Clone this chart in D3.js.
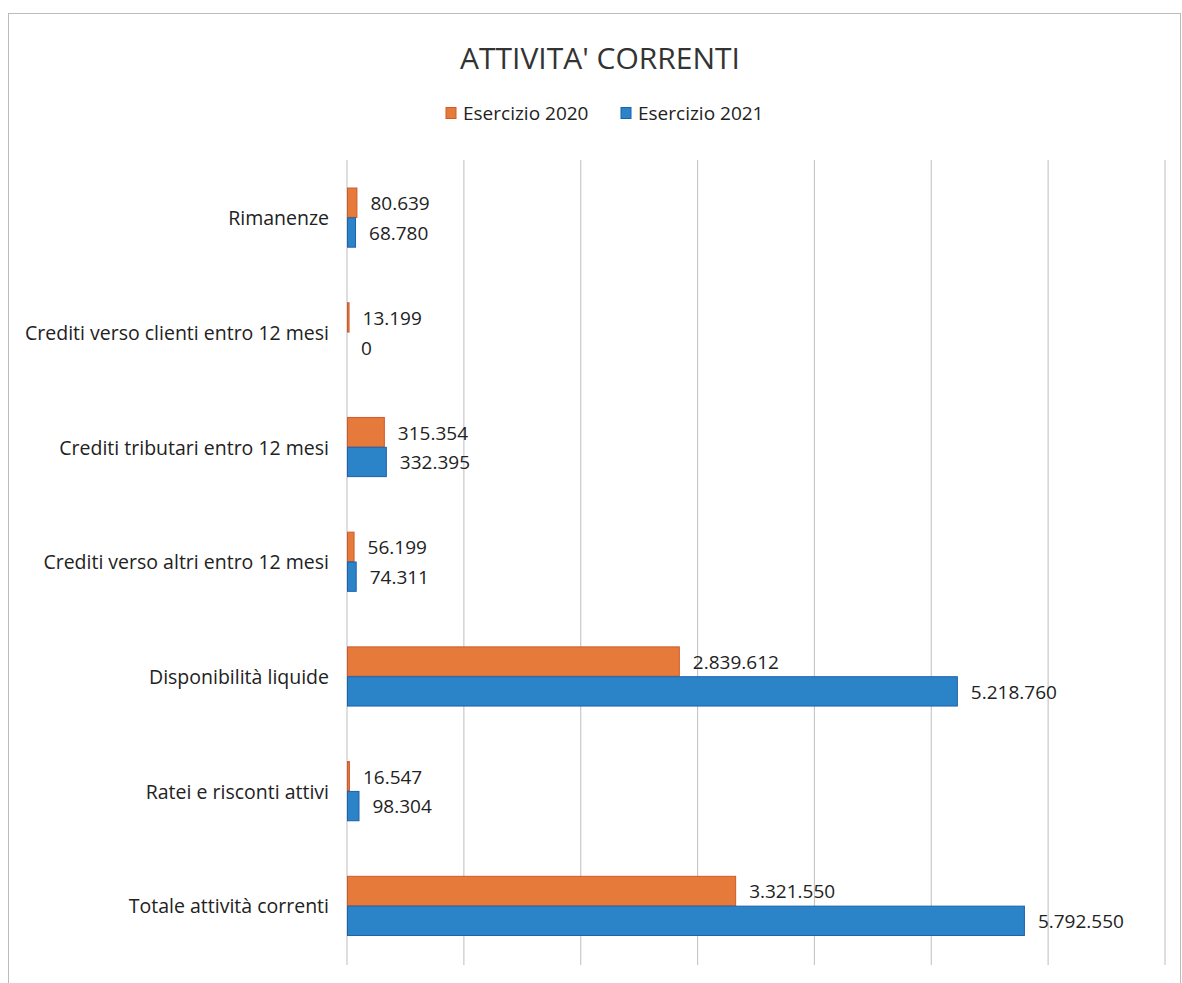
<!DOCTYPE html>
<html><head><meta charset="utf-8">
<script src="https://cdn.jsdelivr.net/npm/d3@7"></script>
<style>body{margin:0;background:#fff}svg{display:block}</style>
</head><body><svg id="c" width="1182" height="983"></svg>
<script>
const categories = ["Rimanenze","Crediti verso clienti entro 12 mesi","Crediti tributari entro 12 mesi","Crediti verso altri entro 12 mesi","Disponibilità liquide","Ratei e risconti attivi","Totale attività correnti"];
const series2020 = [80639,13199,315354,56199,2839612,16547,3321550];
const series2021 = [68780,0,332395,74311,5218760,98304,5792550];
const seriesNames = ["Esercizio 2020","Esercizio 2021"];
const xTicks = [0,1000000,2000000,3000000,4000000,5000000,6000000,7000000];
const colors = ["#E57A3A","#2C84C8"];
const strokes = ["#cf5a2c","#1d5fae"];

const svg = d3.select("#c");
const font = "'Open Sans', 'Noto Sans', sans-serif";
svg.append("rect").attr("x",8.5).attr("y",13.5).attr("width",1172).attr("height",990).attr("fill","none").attr("stroke","#bbb");

const x = d3.scaleLinear().domain([0,7000000]).range([347,1165]);
const y = d3.scaleBand().domain(categories).range([160,963]).paddingInner(0.48).paddingOuter(0.24);
const ys = d3.scaleBand().domain([0,1]).range([0,y.bandwidth()]);

svg.append("g").selectAll("line").data(xTicks).join("line")
  .attr("x1",d=>x(d)).attr("x2",d=>x(d)).attr("y1",160).attr("y2",965)
  .attr("stroke","#c8c8c8").attr("stroke-width",1.2);

const fmt = v => d3.format(",")(v).replace(/,/g,".");
const data = categories.map((c,i)=>({c, vals:[series2020[i],series2021[i]]}));
const g = svg.append("g");
data.forEach(d=>{
  d.vals.forEach((v,k)=>{
    const yy = y(d.c)+ys(k);
    if (v>0) g.append("rect").attr("x",x(0)+0.5).attr("y",yy+0.5).attr("width",Math.max(x(v)-x(0),0.8)).attr("height",ys.bandwidth()-0.5)
      .attr("fill",colors[k]).attr("stroke",strokes[k]).attr("stroke-width",1);
    g.append("text").attr("x",x(v)+14).attr("y",yy+ys.bandwidth()/2+1).attr("dy","0.35em")
      .attr("font-family",font).attr("font-size",19).attr("fill","#222").text(fmt(v));
  });
  g.append("text").attr("x",329).attr("y",y(d.c)+y.bandwidth()/2+1).attr("dy","0.35em").attr("text-anchor","end")
    .attr("font-family",font).attr("font-size",19.5).attr("fill","#222").text(d.c);
});

svg.append("text").attr("x",600).attr("y",69).attr("text-anchor","middle").attr("font-family",font)
  .attr("font-size",30).attr("fill","#333").text("ATTIVITA' CORRENTI");

const leg = svg.append("g");
const lx = [446,621];
seriesNames.forEach((s,k)=>{
  leg.append("rect").attr("x",lx[k]).attr("y",107.5).attr("width",10).attr("height",11).attr("fill",colors[k]).attr("stroke",strokes[k]);
  leg.append("text").attr("x",lx[k]+17).attr("y",113).attr("dy","0.35em").attr("font-family",font).attr("font-size",19).attr("fill","#222").text(s);
});
</script></body></html>
